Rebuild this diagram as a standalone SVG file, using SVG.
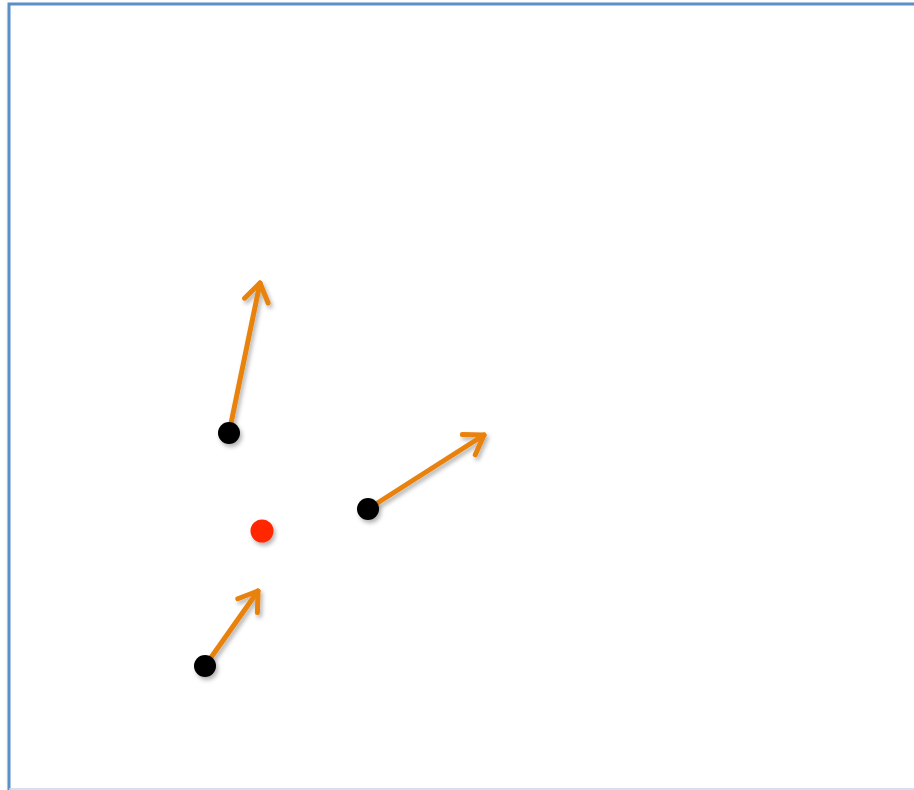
<svg xmlns="http://www.w3.org/2000/svg" width="914" height="790" viewBox="0 0 914 790">
<defs>
<style>
.frame{fill:#fff;stroke:#5b8fc9;stroke-width:3}
.conn{stroke:#e8820c;stroke-width:5;fill:none;stroke-linecap:round;stroke-linejoin:round}
.pt{fill:#000}
.ref{fill:#ff2600}
</style>
<filter id="sh" x="-50%" y="-50%" width="200%" height="200%">
<feDropShadow dx="2" dy="3" stdDeviation="2" flood-color="#000" flood-opacity="0.3"/>
</filter>
<marker id="ah" viewBox="-22 -15 26 30" refX="0" refY="0" markerWidth="26" markerHeight="30" markerUnits="userSpaceOnUse" orient="auto">
<path d="M-18,-12 L0,0 L-18,12" fill="none" stroke="#e8820c" stroke-width="5" stroke-linecap="round" stroke-linejoin="round"/>
</marker>
</defs>
<rect width="914" height="790" fill="#fff"/>
<rect class="frame" x="9" y="4" width="920" height="800" filter="url(#sh)"/>
<line x1="9" y1="789" x2="914" y2="789" stroke="#c8d6e6" stroke-width="1.5"/>
<g id="connectors" filter="url(#sh)">
<line class="conn" x1="229" y1="433" x2="260" y2="283" marker-end="url(#ah)"/>
<line class="conn" x1="368" y1="509" x2="484" y2="435" marker-end="url(#ah)"/>
<line class="conn" x1="205" y1="666" x2="258" y2="591" marker-end="url(#ah)"/>
</g>
<g id="p1" filter="url(#sh)"><circle class="pt" cx="229" cy="433" r="11"/></g>
<g id="p2" filter="url(#sh)"><circle class="pt" cx="368" cy="509" r="11"/></g>
<g id="p3" filter="url(#sh)"><circle class="pt" cx="205" cy="666" r="11"/></g>
<g id="center" filter="url(#sh)"><circle class="ref" cx="262" cy="531" r="11.5"/></g>
</svg>
